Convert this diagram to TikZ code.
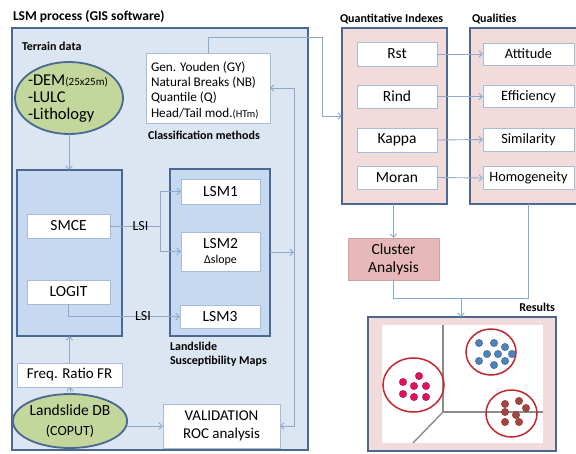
\documentclass[tikz,border=0pt]{standalone}
\usepackage{fontspec}
\setmainfont{Carlito}
\usetikzlibrary{arrows.meta,shapes.geometric}

\definecolor{lsmfill}{HTML}{DCE6F2}
\definecolor{grpfill}{HTML}{C6D9F1}
\definecolor{panelline}{HTML}{4A6890}
\definecolor{boxline}{HTML}{A7BCD6}
\definecolor{linkblue}{HTML}{8CA8CC}
\definecolor{pinkfill}{HTML}{F2DCDB}
\definecolor{clusterfill}{HTML}{E6B9B8}
\definecolor{clusterline}{HTML}{C9A3A3}
\definecolor{ovalgreen}{HTML}{C3D69B}
\definecolor{ringred}{HTML}{C4262E}
\definecolor{dotmag}{HTML}{E0115F}
\definecolor{dotblue}{HTML}{4F81BD}
\definecolor{dotbrown}{HTML}{A5453F}
\definecolor{axisgray}{HTML}{8C8C8C}

\newcommand\fsz[2]{\fontsize{#1}{#2}\selectfont}

\begin{document}
\begin{tikzpicture}[x=1pt,y=-1pt,
  every node/.style={inner sep=0pt,outer sep=0pt},
  panel/.style={draw=panelline,line width=1.8pt,fill=#1},
  wbox/.style={draw=boxline,line width=0.8pt,fill=white,font=\fsz{15.5}{18},align=center},
  qbox/.style={wbox,font=\fsz{14.3}{17}},
  oval/.style={ellipse,draw=panelline,line width=1.8pt,fill=ovalgreen},
  heading/.style={font=\bfseries\fsz{12}{14},anchor=west,align=left},
  link/.style={draw=linkblue,line width=0.9pt},
  arrow/.style={link,-{Straight Barb[length=3.5pt,width=6.5pt]}},
  ring/.style={draw=ringred,line width=1.5pt},
  dot/.style={fill=#1,draw=#1!75!black,line width=0.4pt},
  axis/.style={draw=axisgray,line width=1.4pt},
]
\useasboundingbox (0,0) rectangle (576,453);

% ---------- LSM process panel ----------
\node[panel=lsmfill,minimum width=296pt,minimum height=422pt] (lsm) at (160,239) {};
\node[font=\bfseries\fsz{13.5}{16},anchor=west] (title) at (13,17) {LSM process (GIS software)};
\node[heading] (terrain) at (22,46) {Terrain data};

\node[oval,minimum width=108pt,minimum height=72pt] (dem) at (69,98) {};
\node[font=\fsz{16.5}{17},align=left,anchor=west] (demtext) at (28,99)
  {-DEM{\fsz{11}{12}(25x25m)}\\-LULC\\-Lithology};

\node[wbox,minimum width=124pt,minimum height=70pt] (classif) at (208,88) {};
\node[font=\fsz{13.2}{15.3},align=left,anchor=west] (methods) at (151,90)
  {Gen. Youden (GY)\\Natural Breaks (NB)\\Quantile (Q)\\Head/Tail mod.{\fsz{10.5}{12}(HTm)}};
\node[heading] (classlabel) at (148,135) {Classification methods};

% models group
\node[panel=grpfill,minimum width=105pt,minimum height=166pt] (models) at (69.5,253) {};
\node[wbox,minimum width=83pt,minimum height=24pt] (smce) at (68.5,226) {SMCE};
\node[wbox,minimum width=83pt,minimum height=24pt] (logit) at (68.5,292) {LOGIT};

% maps group
\node[panel=grpfill,minimum width=100pt,minimum height=167pt] (maps) at (220,252.5) {};
\node[wbox,minimum width=79pt,minimum height=25pt] (lsm1) at (220.5,191.5) {LSM1};
\node[wbox,minimum width=79pt,minimum height=39pt] (lsm2) at (220.5,251.5)
  {LSM2\\[-3pt]{\fsz{12}{13}Δslope}};
\node[wbox,minimum width=80pt,minimum height=23pt] (lsm3) at (220,316.5) {LSM3};
\node[heading] (mapslabel) at (170,354) {Landslide\\Susceptibility Maps};

\node[wbox,minimum width=105pt,minimum height=24pt,font=\fsz{15}{16}] (freq) at (69.5,375) {Freq. Ratio FR};
\node[oval,minimum width=106pt,minimum height=54pt,font=\fsz{15.5}{20},align=center] (ldb) at (70,421)
  {Landslide DB\\{\fsz{14}{14}(COPUT)}};
\node[wbox,minimum width=117pt,minimum height=44pt,font=\fsz{15}{18}] (valid) at (221.5,426)
  {VALIDATION\\ROC analysis};

% ---------- indexes and qualities ----------
\node[heading] (qtitle) at (340,19) {Quantitative Indexes};
\node[heading] (qltitle) at (472,19) {Qualities};
\node[panel=pinkfill,minimum width=105pt,minimum height=176pt] (quant) at (394.5,116) {};
\node[panel=pinkfill,minimum width=108pt,minimum height=176pt] (qual) at (524,116) {};

\node[wbox,minimum width=80pt,minimum height=24pt] (rst) at (397,54) {Rst};
\node[wbox,minimum width=80pt,minimum height=23pt] (rind) at (397,96.5) {Rind};
\node[wbox,minimum width=80pt,minimum height=24pt] (kappa) at (397,140) {Kappa};
\node[wbox,minimum width=80pt,minimum height=23pt] (moran) at (397,177.5) {Moran};

\node[qbox,minimum width=91pt,minimum height=22pt] (att) at (528.5,54) {Attitude};
\node[qbox,minimum width=91pt,minimum height=22pt] (eff) at (528.5,96.5) {Efficiency};
\node[qbox,minimum width=91pt,minimum height=23pt] (sim) at (528.5,139.5) {Similarity};
\node[qbox,minimum width=91pt,minimum height=23pt] (hom) at (528.5,178) {Homogeneity};

\node[draw=clusterline,line width=0.8pt,fill=clusterfill,minimum width=91pt,minimum height=42pt,
  font=\fsz{15.5}{18},align=center] (cluster) at (393.5,259) {Cluster\\Analysis};

% ---------- results ----------
\node[panel=pinkfill,minimum width=188pt,minimum height=134pt] (results) at (462,384) {};
\node[font=\bfseries\fsz{12}{14},anchor=east] (reslabel) at (555,307) {Results};

\fill[white] (382,325) rectangle (543,443);
\draw[axis] (443,325) -- (443,412) -- (543,412);
\draw[axis] (443,412) -- (413,443);

\draw[ring] (413.5,385) ellipse [x radius=30.5pt, y radius=27pt];
\draw[ring] (491,352) ellipse [x radius=25pt, y radius=23pt];
\draw[ring] (511.5,413.5) ellipse [x radius=25.5pt, y radius=23.5pt];

\foreach \p in {(419,376),(403,382),(414,386),(426,386),(403,394),(414,397),(426,397)}
  \draw[dot=dotmag] \p circle (3.7pt);
\foreach \p in {(479,343),(494,343),(505,347),(487,354),(498,354),(512,354),(479,361),(494,365),(505,361)}
  \draw[dot=dotblue] \p circle (3.7pt);
\foreach \p in {(505,404),(519,401),(526,408),(505,412),(516,415),(505,422),(519,422)}
  \draw[dot=dotbrown] \p circle (3.7pt);

% ---------- connectors ----------
\draw[arrow] (dem.south) -- (dem.south |- models.north);
\draw[arrow] (freq.north) -- (freq.north |- models.south);
\draw[arrow] (ldb.north) -- (ldb.north |- freq.south);
\draw[arrow] (ldb.east |- valid.west) -- (valid.west);

\coordinate (split) at (160,226);
\draw[link] (smce.east) -- (split);
\draw[arrow] (split) |- (lsm1.west);
\draw[arrow] (split) |- (lsm2.west);
\node[font=\fsz{14}{15}] (lsi1) at (140.5,226) {LSI};
\draw[arrow] (logit.south) |- (lsm3.west);
\node[font=\fsz{14}{15}] (lsi2) at (143,316) {LSI};

\coordinate (bus) at (294,0);
\draw[arrow] (maps.east) -- (maps.east -| bus);
\draw[link,{Straight Barb[length=3.5pt,width=6.5pt]}-{Straight Barb[length=3.5pt,width=6.5pt]}]
  (classif.east) -- (classif.east -| bus) -- (valid.east -| bus) -- (valid.east);

\coordinate (c1) at (322,37);
\draw[arrow] (classif.north) |- (c1) |- (quant.west);

\draw[arrow] (rst.east) -- (att.west);
\draw[arrow] (rind.east) -- (eff.west);
\draw[arrow] (kappa.east) -- (sim.west);
\draw[arrow] (moran.east) -- (hom.west);

\draw[arrow] (quant.south -| cluster.north) -- (cluster.north);
\coordinate (jr) at (528,298);
\coordinate (jd) at (461,298);
\draw[link] (cluster.south) |- (jr) -- (jr |- qual.south);
\draw[arrow] (jd) -- (jd |- results.north);
\end{tikzpicture}
\end{document}
